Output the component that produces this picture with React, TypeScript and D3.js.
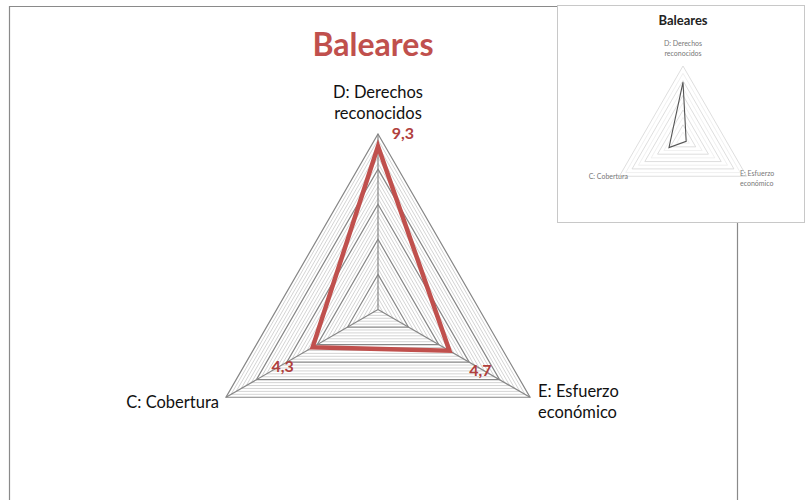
import { useEffect, useRef } from 'react';
import * as d3 from 'd3';

// ejes del radar (orden horario desde arriba)
const axes = ['D', 'E', 'C'];
const axisLabels = [['D: Derechos', 'reconocidos'], ['E: Esfuerzo', 'económico'], ['C: Cobertura']];
const values = [9.3, 4.7, 4.3];
const valueLabels = ['9,3', '4,7', '4,3'];
// miniatura (imagen de la esquina)
const insetValues = [7.8, 0.5, 2.2];
const title = 'Baleares';

const W = 809;
const H = 500;
const RED = '#c0504d';
const FONT = 'Lato, Carlito, Calibri, sans-serif';

export default function App() {
  const svgRef = useRef(null);

  useEffect(() => {
    const svg = d3.select(svgRef.current);
    svg.selectAll('*').remove();

    // marco del gráfico
    svg.append('path')
      .attr('d', 'M9.5,500 L9.5,6.5 L560,6.5 M737.5,200 L737.5,500')
      .attr('fill', 'none')
      .attr('stroke', '#8a8a8a')
      .attr('stroke-width', 1.2);

    svg.append('text')
      .attr('x', 373).attr('y', 56)
      .attr('text-anchor', 'middle')
      .style('font-family', FONT)
      .style('font-weight', 700)
      .style('font-size', '32px')
      .style('fill', RED)
      .text(title);

    const cx = 378;
    const cy = 309.5;
    const r = d3.scaleLinear().domain([0, 10]).range([0, 175.5]);
    const angle = (i) => -Math.PI / 2 + (i * 2 * Math.PI) / axes.length;
    const pt = (i, v, rs = r, x0 = cx, y0 = cy) => [x0 + Math.cos(angle(i)) * rs(v), y0 + Math.sin(angle(i)) * rs(v)];
    const ring = (v, rs = r, x0 = cx, y0 = cy) => d3.line()(axes.map((_, i) => pt(i, v, rs, x0, y0))) + 'Z';

    const g = svg.append('g');
    // líneas menores de la cuadrícula
    const minor = d3.range(0, 10, 1 / 3).filter(v => Math.abs(v / 2 - Math.round(v / 2)) > 0.01);
    g.selectAll('path.minor')
      .data(minor)
      .join('path')
      .attr('class', 'minor')
      .attr('d', d => ring(d))
      .attr('fill', 'none')
      .attr('stroke', '#cfcfcf')
      .attr('stroke-width', 0.9);

    g.selectAll('path.major')
      .data(d3.range(2, 10.01, 2))
      .join('path')
      .attr('class', 'major')
      .attr('d', d => ring(d))
      .attr('fill', 'none')
      .attr('stroke', '#868686')
      .attr('stroke-width', 1.2);

    g.selectAll('line.spoke')
      .data(axes)
      .join('line')
      .attr('class', 'spoke')
      .attr('x1', cx).attr('y1', cy)
      .attr('x2', (_, i) => pt(i, 10)[0])
      .attr('y2', (_, i) => pt(i, 10)[1])
      .attr('stroke', '#868686')
      .attr('stroke-width', 1.2);

    // serie
    g.append('path')
      .attr('d', d3.line()(values.map((v, i) => pt(i, v))) + 'Z')
      .attr('fill', 'none')
      .attr('stroke', RED)
      .attr('stroke-width', 4.5)
      .attr('stroke-linejoin', 'miter');

    // etiquetas de datos
    const labelOffsets = [[25, -7], [31, 25], [-30, 25]];
    g.selectAll('text.val')
      .data(values)
      .join('text')
      .attr('class', 'val')
      .attr('x', (d, i) => pt(i, d)[0] + labelOffsets[i][0])
      .attr('y', (d, i) => pt(i, d)[1] + labelOffsets[i][1])
      .attr('text-anchor', 'middle')
      .style('font-family', FONT)
      .style('font-weight', 700)
      .style('font-size', '16px')
      .style('fill', '#b0403d')
      .text((_, i) => valueLabels[i]);

    // etiquetas de ejes
    const axisPos = [
      { x: 378, y: 98, anchor: 'middle' },
      { x: 538, y: 397, anchor: 'start' },
      { x: 219, y: 408, anchor: 'end' },
    ];
    axisLabels.forEach((lines, i) => {
      const t = svg.append('text')
        .attr('x', axisPos[i].x).attr('y', axisPos[i].y)
        .attr('text-anchor', axisPos[i].anchor)
        .style('font-family', FONT)
        .style('font-size', '16.5px')
        .style('fill', '#111');
      lines.forEach((s, k) => {
        t.append('tspan').attr('x', axisPos[i].x).attr('dy', k === 0 ? 0 : 21).text(s);
      });
    });

    // miniatura en la esquina superior derecha
    const inset = svg.append('g');
    inset.append('rect')
      .attr('x', 557.5).attr('y', 5.5).attr('width', 247).attr('height', 217)
      .attr('fill', '#fff')
      .attr('stroke', '#c8c8c8');
    inset.append('text')
      .attr('x', 683).attr('y', 25)
      .attr('text-anchor', 'middle')
      .style('font-family', FONT)
      .style('font-weight', 700)
      .style('font-size', '13px')
      .style('fill', '#222')
      .text(title);
    const icx = 683;
    const icy = 139.5;
    const ir = d3.scaleLinear().domain([0, 10]).range([0, 73.5]);
    inset.selectAll('path.iring')
      .data(d3.range(1, 10.01, 1))
      .join('path')
      .attr('class', 'iring')
      .attr('d', d => ring(d, ir, icx, icy))
      .attr('fill', 'none')
      .attr('stroke', d => (d % 2 === 0 ? '#d6d6d6' : '#ececec'))
      .attr('stroke-width', 0.8);
    inset.append('path')
      .attr('d', d3.line()(insetValues.map((v, i) => pt(i, v, ir, icx, icy))) + 'Z')
      .attr('fill', 'none')
      .attr('stroke', '#555')
      .attr('stroke-width', 1.1);
    const insetPos = [
      { x: 683, y: 46, anchor: 'middle' },
      { x: 740, y: 176, anchor: 'start' },
      { x: 628, y: 179, anchor: 'end' },
    ];
    axisLabels.forEach((lines, i) => {
      const t = inset.append('text')
        .attr('x', insetPos[i].x).attr('y', insetPos[i].y)
        .attr('text-anchor', insetPos[i].anchor)
        .style('font-family', FONT)
        .style('font-size', '7px')
        .style('fill', '#777');
      lines.forEach((s, k) => {
        t.append('tspan').attr('x', insetPos[i].x).attr('dy', k === 0 ? 0 : 10).text(s);
      });
    });
  }, []);

  return (
    <svg ref={svgRef} width={W} height={H} style={{ position: 'absolute', left: 0, top: 0, background: '#fff' }} />
  );
}
